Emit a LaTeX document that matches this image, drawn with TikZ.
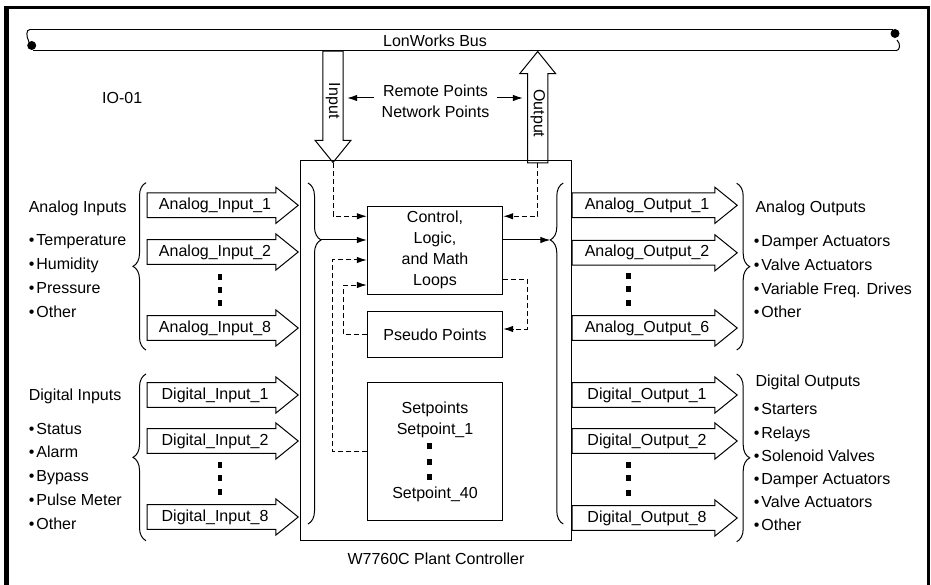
\documentclass[tikz,border=0pt]{standalone}
\usepackage{fontspec}
\setmainfont{Liberation Sans}
\usetikzlibrary{arrows.meta,shapes.arrows,decorations.pathreplacing,positioning}

\begin{document}
\begin{tikzpicture}[
    x=1pt, y=-1pt, line width=1pt,
    font=\fontsize{16}{21}\selectfont,
    every node/.style={inner sep=0pt},
    box/.style={draw, minimum width=135.4pt, align=center},
    sig/.style={draw, single arrow, minimum height=151pt, minimum width=36pt, single arrow head extend=4.5pt, single arrow tip angle=78, inner xsep=3pt, inner ysep=2pt},
    bigarrow/.style={draw, single arrow, minimum height=111.3pt, minimum width=36pt, single arrow head extend=7.7pt, single arrow tip angle=78, inner xsep=3pt, inner ysep=2pt},
    grp/.style={decorate, decoration={brace, amplitude=13pt}},
    vdot/.style={fill, minimum width=4.5pt, minimum height=6pt},
    lbl/.style={anchor=west},
    items/.style={anchor=north west, align=left, font=\fontsize{16}{23.8}\selectfont},
    flow/.style={-{Latex[length=10pt,width=6.5pt]}},
    feed/.style={flow, dash pattern=on 5pt off 3pt}
]
\useasboundingbox (0,0) rectangle (931,585);

% frame
\draw[line width=5pt] (6.5,585) -- (6.5,7.5);
\draw[line width=3pt] (4,7.5) -- (930,7.5);
\draw[line width=3.5pt] (928.3,6) -- (928.3,585);

% bus
\draw (30,29.5) -- (893,29.5);
\draw (33,50.7) -- (896,50.7);
\draw (30,29.5) .. controls (26,29.5) and (26,36) .. (29,42);
\fill (31.7,45.5) circle[radius=4.5pt];
\fill (895,33.5) circle[radius=4.5pt];
\draw (896,50.7) .. controls (900,50.7) and (901,44) .. (897,40);
\node (bus) at (435,41) {LonWorks Bus};
\node[lbl] (docid) at (101.7,98) {IO-01};

% network in / out
\node[bigarrow, rotate=-90, anchor=tail] (inarr) at (333,50.7) {Input};
\node[bigarrow, rotate=-90, shape border rotate=180, anchor=tip] (outarr) at (537.7,50.7) {Output};
\node[align=center, inner xsep=7pt] (remote) at (435.5,101.5) {Remote Points\\Network Points};
\draw[flow] ([yshift=3.5pt]remote.west) -- ++(-27,0);
\draw[flow] ([yshift=3.5pt]remote.east) -- ++(26,0);

% controller
\node[draw, minimum width=271pt, minimum height=379pt] (plant) at (436.2,350.5) {};
\node (plantlbl) at (436,559) {W7760C Plant Controller};
\node[box, minimum height=88.3pt] (loops) at (435,250.2) {Control,\\Logic,\\and Math\\Loops};
\node[box, minimum height=46pt] (pseudo) at (435,334.7) {Pseudo Points};
\node[box, minimum height=137.3pt] (setpts) at (435,451.4) {};
\node (sphead) at (435,409) {Setpoints};
\node (sp1) at (435,430.7) {Setpoint\_1};
\node[vdot] (spd1) at (429.3,446) {};
\node[vdot] (spd2) at (429.3,461.5) {};
\node[vdot] (spd3) at (429.3,477) {};
\node (sp40) at (435,494) {Setpoint\_40};

\draw[grp, decoration={aspect=0.167}] (308,183) -- (308,524);
\draw[grp, decoration={aspect=0.833}] (563.3,524) -- (563.3,183);
\coordinate (intip) at (321,240);
\coordinate (outtip) at (550.3,240);
\draw[flow] (intip) -- (intip -| loops.west);
\draw[flow] (loops.east |- outtip) -- (outtip);
\draw[feed] (inarr.tip) |- ([yshift=-10.7pt]loops.north west);
\draw[feed] (outarr.tail) |- ([yshift=-10.7pt]loops.north east);
\draw[feed] (setpts.west) -- ++(-34.6,0) |- ([yshift=-9.8pt]loops.west);
\draw[feed] (pseudo.west) -- ++(-23.3,0) |- ([yshift=-34.8pt]loops.west);
\draw[feed] ([yshift=-29pt]loops.east) -- ++(24,0) |- ([yshift=5.7pt]pseudo.east);

% inputs
\node[sig, anchor=tail] (ai1) at (146.7,205.3) {Analog\_Input\_1};
\node[sig, anchor=tail] (ai2) at (146.7,252) {Analog\_Input\_2};
\node[vdot] (aid1) at (220,276.7) {};
\node[vdot] (aid2) at (220,290) {};
\node[vdot] (aid3) at (220,303.3) {};
\node[sig, anchor=tail] (ai8) at (146.7,328) {Analog\_Input\_8};
\node[sig, anchor=tail] (di1) at (146.7,395) {Digital\_Input\_1};
\node[sig, anchor=tail] (di2) at (146.7,441) {Digital\_Input\_2};
\node[vdot] (did1) at (220,465) {};
\node[vdot] (did2) at (220,478) {};
\node[vdot] (did3) at (220,491.7) {};
\node[sig, anchor=tail] (di8) at (146.7,517) {Digital\_Input\_8};
\draw[grp] (146,350) -- (146,182.7);
\draw[grp] (146,540.7) -- (146,374);

\node[lbl] (aihead) at (28.3,208) {Analog Inputs};
\node[items] (ailist) at (28.3,234.2) {•\kern2pt Temperature\\•\kern2pt Humidity\\•\kern2pt Pressure\\•\kern2pt Other};
\node[lbl] (dihead) at (28.3,396.3) {Digital Inputs};
\node[items] (dilist) at (28.3,422.5) {•\kern2pt Status\\•\kern2pt Alarm\\•\kern2pt Bypass\\•\kern2pt Pulse Meter\\•\kern2pt Other};

% outputs
\node[sig, minimum height=165pt, anchor=tail] (ao1) at (571.7,205.3) {Analog\_Output\_1};
\node[sig, minimum height=165pt, anchor=tail] (ao2) at (571.7,252.8) {Analog\_Output\_2};
\node[vdot] (aod1) at (628.3,276) {};
\node[vdot] (aod2) at (628.3,289.3) {};
\node[vdot] (aod3) at (628.3,302.7) {};
\node[sig, minimum height=165pt, anchor=tail] (ao6) at (571.7,328) {Analog\_Output\_6};
\node[sig, minimum height=165pt, anchor=tail] (do1) at (571.7,395) {Digital\_Output\_1};
\node[sig, minimum height=165pt, anchor=tail] (do2) at (571.7,441) {Digital\_Output\_2};
\node[vdot] (dod1) at (628.3,465) {};
\node[vdot] (dod2) at (628.3,478) {};
\node[vdot] (dod3) at (628.3,492.7) {};
\node[sig, minimum height=165pt, anchor=tail] (do8) at (571.7,518) {Digital\_Output\_8};
\draw[grp] (736.7,183.3) -- (736.7,350);
\draw[grp] (736.7,374) -- (736.7,541.7);

\node[lbl] (aohead) at (755,208) {Analog Outputs};
\node[items] (aolist) at (753.3,235) {•\kern2pt Damper Actuators\\•\kern2pt Valve Actuators\\•\kern2pt Variable Freq. Drives\\•\kern2pt Other};
\node[lbl] (dohead) at (755,382) {Digital Outputs};
\node[items, font=\fontsize{16}{23.2}\selectfont] (dolist) at (753.3,403.3) {•\kern2pt Starters\\•\kern2pt Relays\\•\kern2pt Solenoid Valves\\•\kern2pt Damper Actuators\\•\kern2pt Valve Actuators\\•\kern2pt Other};
\end{tikzpicture}
\end{document}
